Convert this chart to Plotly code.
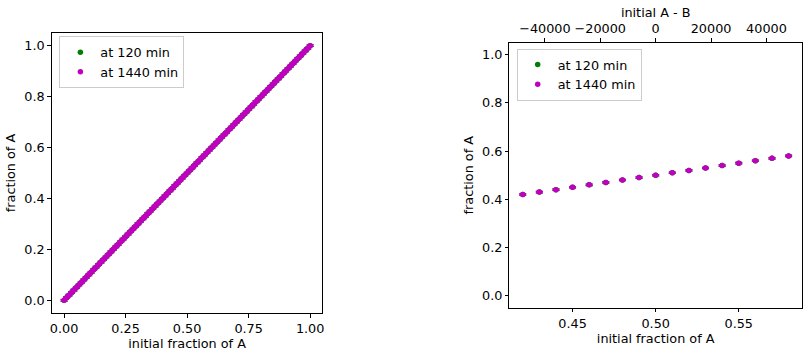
import plotly.graph_objects as go

# ---- data ----
x_all = [i / 100 for i in range(101)]
y_all_120 = [i / 100 for i in range(101)]
y_all_1440 = [i / 100 for i in range(101)]
err_all = [0.003] * 101

x_zoom = [0.42, 0.43, 0.44, 0.45, 0.46, 0.47, 0.48, 0.49, 0.50,
          0.51, 0.52, 0.53, 0.54, 0.55, 0.56, 0.57, 0.58]
y_zoom_120 = list(x_zoom)
y_zoom_1440 = list(x_zoom)
err_zoom = [0.003] * len(x_zoom)

top_range = [-52800, 52800]
top_ticks = [-40000, -20000, 0, 20000, 40000]

GREEN = "#008000"
MAG = "#bf00bf"
FONT = "DejaVu Sans"
FS = 12.8

fig = go.Figure()

def add(x, y, e, color, name, xa, ya, legend, show):
    fig.add_trace(go.Scatter(
        x=x, y=y, mode="markers", name=name,
        marker=dict(color=color, size=5.5),
        error_y=dict(type="data", array=e, visible=True, color=color,
                     thickness=1.2, width=3.5),
        xaxis=xa, yaxis=ya, legend=legend, showlegend=show))

add(x_all, y_all_120, err_all, GREEN, "at 120 min", "x", "y", "legend", True)
add(x_all, y_all_1440, err_all, MAG, "at 1440 min", "x", "y", "legend", True)
add(x_zoom, y_zoom_120, err_zoom, GREEN, "at 120 min", "x2", "y2", "legend2", True)
add(x_zoom, y_zoom_1440, err_zoom, MAG, "at 1440 min", "x2", "y2", "legend2", True)

# invisible trace so the secondary top axis (initial A - B) is drawn
fig.add_trace(go.Scatter(x=top_range, y=[None, None], mode="markers",
                         xaxis="x3", yaxis="y2", showlegend=False,
                         hoverinfo="skip", marker=dict(opacity=0)))

tickfont = dict(family=FONT, size=FS, color="black")
axis_common = dict(showline=True, linecolor="black", linewidth=1, mirror=True,
                   ticks="outside", ticklen=3.5, tickwidth=0.8, tickcolor="black",
                   showgrid=False, zeroline=False,
                   tickfont=tickfont,
                   title_font=dict(family=FONT, size=FS, color="black"))

fig.update_layout(
    width=812, height=353,
    margin=dict(l=0, r=0, t=0, b=0),
    plot_bgcolor="white", paper_bgcolor="white",
    font=dict(family=FONT, size=FS, color="black"),
    xaxis=dict(domain=[0.0616, 0.3966], range=[-0.05, 1.05],
               tickvals=[0, 0.25, 0.5, 0.75, 1.0], tickformat=".2f",
               title=dict(text="initial fraction of A", standoff=2),
               anchor="y", **axis_common),
    yaxis=dict(domain=[0.1133, 0.9065], range=[-0.05, 1.05],
               tickvals=[0, 0.2, 0.4, 0.6, 0.8, 1.0], tickformat=".1f",
               title=dict(text="fraction of A", standoff=5),
               anchor="x", **axis_common),
    xaxis2=dict(domain=[0.628, 0.990], range=[0.412, 0.588],
                tickvals=[0.45, 0.50, 0.55], tickformat=".2f",
                title=dict(text="initial fraction of A", standoff=2),
                anchor="y2", **axis_common),
    yaxis2=dict(domain=[0.1283, 0.879], range=[-0.05, 1.05],
                tickvals=[0, 0.2, 0.4, 0.6, 0.8, 1.0], tickformat=".1f",
                title=dict(text="fraction of A", standoff=5),
                anchor="x2", **axis_common),
    xaxis3=dict(overlaying="x2", side="top", anchor="y2", range=top_range,
                tickvals=top_ticks, tickformat="d", showline=False,
                ticks="outside", ticklen=3.5, tickwidth=0.8, tickcolor="black",
                showgrid=False, zeroline=False,
                tickfont=tickfont,
                title=dict(text="initial A - B", standoff=0,
                           font=dict(family=FONT, size=FS, color="black"))),
    legend=dict(x=0.071, y=0.897, xanchor="left", yanchor="top",
                bgcolor="white", bordercolor="#cccccc", borderwidth=1,
                font=dict(family=FONT, size=FS), tracegroupgap=0),
    legend2=dict(x=0.637, y=0.862, xanchor="left", yanchor="top",
                 bgcolor="white", bordercolor="#cccccc", borderwidth=1,
                 font=dict(family=FONT, size=FS), tracegroupgap=0),
)

fig.write_html("out.html")
